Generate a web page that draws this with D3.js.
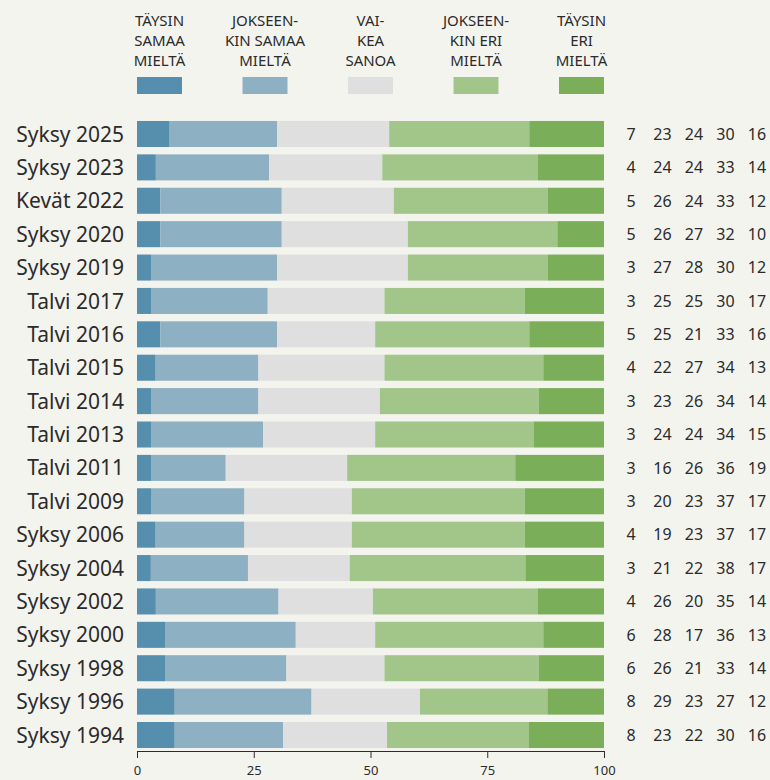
<!DOCTYPE html>
<html>
<head>
<meta charset="utf-8">
<script src="https://cdn.jsdelivr.net/npm/d3@7"></script>
<style>
  html, body { margin: 0; padding: 0; background: #f4f4ef; }
  svg { display: block; font-family: "Noto Sans", sans-serif; }
</style>
</head>
<body>
<div id="chart"></div>
<script>
// survey rounds, top to bottom
const periods = ["Syksy 2025", "Syksy 2023", "Kevät 2022", "Syksy 2020", "Syksy 2019",
  "Talvi 2017", "Talvi 2016", "Talvi 2015", "Talvi 2014", "Talvi 2013", "Talvi 2011",
  "Talvi 2009", "Syksy 2006", "Syksy 2004", "Syksy 2002", "Syksy 2000", "Syksy 1998",
  "Syksy 1996", "Syksy 1994"];

const answerKeys = ["taysinSamaa", "jokseenkinSamaa", "vaikea", "jokseenkinEri", "taysinEri"];

const legendLabels = [
  ["TÄYSIN", "SAMAA", "MIELTÄ"],
  ["JOKSEEN-", "KIN SAMAA", "MIELTÄ"],
  ["VAI-", "KEA", "SANOA"],
  ["JOKSEEN-", "KIN ERI", "MIELTÄ"],
  ["TÄYSIN", "ERI", "MIELTÄ"]
];

const taysinSamaa     = [7, 4, 5, 5, 3, 3, 5, 4, 3, 3, 3, 3, 4, 3, 4, 6, 6, 8, 8];
const jokseenkinSamaa = [23, 24, 26, 26, 27, 25, 25, 22, 23, 24, 16, 20, 19, 21, 26, 28, 26, 29, 23];
const vaikea          = [24, 24, 24, 27, 28, 25, 21, 27, 26, 24, 26, 23, 23, 22, 20, 17, 21, 23, 22];
const jokseenkinEri   = [30, 33, 33, 32, 30, 30, 33, 34, 34, 34, 36, 37, 37, 38, 35, 36, 33, 27, 30];
const taysinEri       = [16, 14, 12, 10, 12, 17, 16, 13, 14, 15, 19, 17, 17, 17, 14, 13, 14, 12, 16];

const xTicks = [0, 25, 50, 75, 100];

const colors = ["#568fae", "#8eb0c3", "#dfdfdf", "#a2c589", "#7aae59"];

const series = [taysinSamaa, jokseenkinSamaa, vaikea, jokseenkinEri, taysinEri];

// rows; bars are scaled to 100 since rounded numbers do not always sum to it
const rows = periods.map((p, i) => {
  const row = {period: p};
  answerKeys.forEach((k, j) => { row[k] = series[j][i]; });
  const total = d3.sum(answerKeys, k => row[k]);
  answerKeys.forEach(k => { row[k + "_pct"] = row[k] / total * 100; });
  return row;
});

const width = 770, height = 780;
const textColor = "#2b2b2b";

const svg = d3.select("#chart").append("svg")
  .attr("width", width)
  .attr("height", height);

const x = d3.scaleLinear().domain([0, 100]).range([137, 604]);

const y = d3.scaleBand()
  .domain(periods)
  .range([117.3, 751.7])
  .paddingInner(0.22)
  .paddingOuter(0.11);

const stack = d3.stack().keys(answerKeys.map(k => k + "_pct"));
const stacked = stack(rows);

svg.append("g")
  .selectAll("g")
  .data(stacked)
  .join("g")
  .attr("fill", (d, i) => colors[i])
  .selectAll("rect")
  .data(d => d)
  .join("rect")
  .attr("x", d => x(d[0]))
  .attr("y", d => y(d.data.period))
  .attr("width", d => x(d[1]) - x(d[0]))
  .attr("height", y.bandwidth());

// category labels
svg.append("g")
  .selectAll("text")
  .data(periods)
  .join("text")
  .attr("x", 124)
  .attr("y", d => y(d) + y.bandwidth() / 2)
  .attr("dy", "0.36em")
  .attr("text-anchor", "end")
  .attr("font-size", 21)
  .attr("fill", textColor)
  .text(d => d);

// numbers on the right
const col = d3.scalePoint().domain(answerKeys).range([631, 757]);

svg.append("g")
  .selectAll("g")
  .data(rows)
  .join("g")
  .attr("transform", d => `translate(0,${y(d.period) + y.bandwidth() / 2})`)
  .selectAll("text")
  .data(d => answerKeys.map(k => ({key: k, value: d[k]})))
  .join("text")
  .attr("x", d => col(d.key))
  .attr("dy", "0.36em")
  .attr("text-anchor", "middle")
  .attr("font-size", 16)
  .attr("fill", textColor)
  .text(d => d.value);

// x axis
const axis = svg.append("g")
  .attr("transform", `translate(0,751)`)
  .call(d3.axisBottom(x).tickValues(xTicks).tickSize(7).tickPadding(8));
axis.select(".domain").attr("stroke", textColor);
axis.selectAll(".tick line").attr("stroke", textColor);
axis.selectAll(".tick text")
  .attr("font-size", 13)
  .attr("font-family", "Noto Sans, sans-serif")
  .attr("fill", textColor);

// legend
const legendX = d3.scalePoint().domain(answerKeys).range([137 + 22.5, 604 - 22.5]);

const legend = svg.append("g")
  .selectAll("g")
  .data(answerKeys)
  .join("g")
  .attr("transform", d => `translate(${legendX(d)},0)`);

legend.append("rect")
  .attr("x", -22.5)
  .attr("y", 77)
  .attr("width", 45)
  .attr("height", 17)
  .attr("fill", (d, i) => colors[i]);

legend.append("text")
  .attr("text-anchor", "middle")
  .attr("font-size", 15)
  .attr("fill", textColor)
  .selectAll("tspan")
  .data((d, i) => legendLabels[i])
  .join("tspan")
  .attr("x", 0)
  .attr("y", (d, i) => 26 + i * 20)
  .text(d => d);
</script>
</body>
</html>
